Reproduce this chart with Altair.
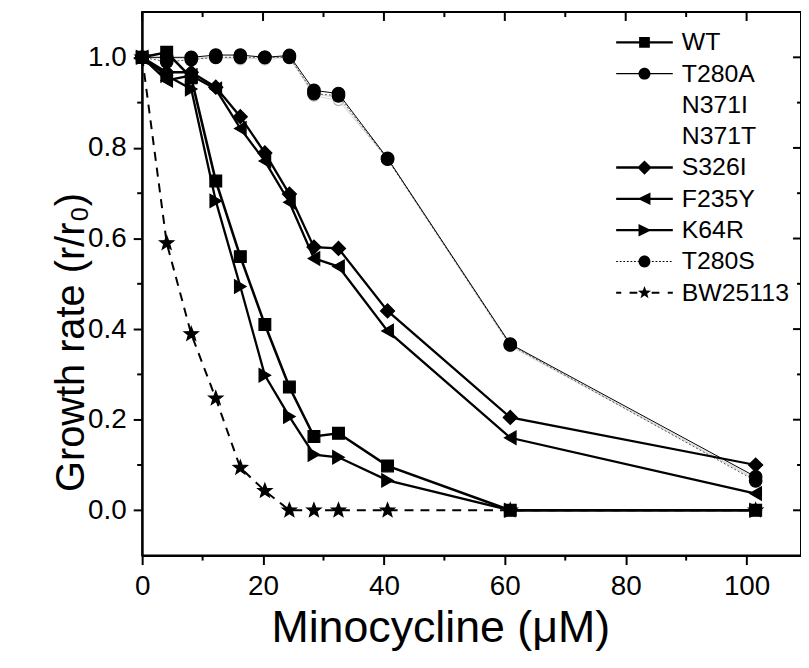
import math
import altair as alt
import pandas as pd

# ---------------- data ----------------
conc = [0, 4.06, 8.12, 12.18, 16.24, 20.3, 24.36, 28.42, 32.48, 40.6, 60.9, 101.5]

wt      = [1.000, 1.011, 0.955, 0.727, 0.560, 0.410, 0.272, 0.163, 0.170, 0.098, 0.000, 0.000]
t280a   = [1.000, 1.000, 1.000, 1.005, 1.005, 1.000, 1.004, 0.927, 0.920, 0.777, 0.367, 0.074]
n371i   = [1.000, 0.995, 1.000, 1.000, 1.000, 0.995, 1.000, 0.920, 0.910, 0.777, 0.365, 0.070]
n371t   = [1.000, 1.000, 0.995, 1.000, 0.995, 1.000, 1.000, 0.915, 0.905, 0.775, 0.362, 0.068]
s326i   = [1.000, 0.967, 0.967, 0.934, 0.869, 0.789, 0.698, 0.581, 0.578, 0.440, 0.205, 0.100]
f235y   = [1.000, 0.949, 0.960, 0.930, 0.843, 0.771, 0.680, 0.556, 0.538, 0.396, 0.160, 0.037]
k64r    = [1.000, 0.960, 0.930, 0.683, 0.494, 0.298, 0.207, 0.123, 0.117, 0.066, 0.000, 0.000]
t280s   = [1.000, 0.990, 0.995, 1.000, 1.000, 1.000, 1.000, 0.920, 0.915, 0.775, 0.365, 0.065]
bw25113 = [1.000, 0.590, 0.389, 0.247, 0.094, 0.043, 0.000, 0.000, 0.000, 0.000, 0.000, 0.000]

series_names = ["WT", "T280A", "N371I", "N371T", "S326I", "F235Y", "K64R", "T280S", "BW25113"]
series_values = [wt, t280a, n371i, n371t, s326i, f235y, k64r, t280s, bw25113]

x_major = [0, 20, 40, 60, 80, 100]
x_minor = [10, 30, 50, 70, 90]
y_major = [0.0, 0.2, 0.4, 0.6, 0.8, 1.0]
y_minor = [0.1, 0.3, 0.5, 0.7, 0.9]

# ---------------- style ----------------
FONT = "Liberation Sans"
W, H = 663, 547


def star_path(R, r):
    pts = []
    for k in range(10):
        a = -math.pi / 2 + k * math.pi / 5
        rad = R if k % 2 == 0 else r
        pts.append((rad * math.cos(a), rad * math.sin(a)))
    return "M" + "L".join(f"{x:.3f},{y:.3f}" for x, y in pts) + "Z"


def hbar(x0, x1, h):
    return f"M{x0:.2f},{-h:.2f}H{x1:.2f}V{h:.2f}H{x0:.2f}Z"


STAR = star_path(1.15, 0.48)
CIRCLE = "M-1,0A1,1,0,1,1,1,0A1,1,0,1,1,-1,0Z"
SQUARE = "M-0.9,-0.9H0.9V0.9H-0.9Z"
DIAMOND = "M0,-1.2L1.2,0L0,1.2L-1.2,0Z"
TRI_L = "M-1.15,0L1,-1.05L1,1.05Z"
TRI_R = "M1.15,0L-1,1.05L-1,-1.05Z"
L = 4.75
thick = hbar(-L, L, 0.2)
thin = hbar(-L, L, 0.09)
dotted = "".join(hbar(x, x + 0.3, 0.08) for x in [-L + i * 0.6 for i in range(16)])
dashed = hbar(-L, -3.9, 0.17) + hbar(-2.5, -1.2, 0.17) + hbar(1.2, 2.5, 0.17) + hbar(3.9, L, 0.17)
EMPTY = "M0,0Z"

legend_paths = [
    thick + SQUARE,
    thin + CIRCLE,
    EMPTY,
    EMPTY,
    thick + DIAMOND,
    thick + TRI_L,
    thick + TRI_R,
    dotted + CIRCLE,
    dashed + STAR,
]

styles = {
    "WT":      dict(color="black", width=2.6, dash=None, shape="square", size=140, fill="black", stroke="black"),
    "T280A":   dict(color="black", width=1.0, dash=None, shape="circle", size=160, fill="black", stroke="black"),
    "N371I":   dict(color="#cfcfcf", width=0.8, dash=None, shape="circle", size=110, fill="white", stroke="#b5b5b5"),
    "N371T":   dict(color="#cfcfcf", width=0.8, dash=None, shape="circle", size=110, fill="white", stroke="#b5b5b5"),
    "S326I":   dict(color="black", width=2.3, dash=None, shape="diamond", size=200, fill="black", stroke="black"),
    "F235Y":   dict(color="black", width=2.3, dash=None, shape="triangle-left", size=180, fill="black", stroke="black"),
    "K64R":    dict(color="black", width=2.3, dash=None, shape="triangle-right", size=180, fill="black", stroke="black"),
    "T280S":   dict(color="#555555", width=1.0, dash=[2, 2], shape="circle", size=160, fill="black", stroke="black"),
    "BW25113": dict(color="black", width=2.0, dash=[9, 7], shape=STAR, size=170, fill="black", stroke="black"),
}
draw_order = ["N371I", "N371T", "T280S", "T280A", "BW25113", "S326I", "F235Y", "K64R", "WT"]

# ---------------- scales / axes ----------------
xs = alt.Scale(domain=[0, 109], nice=False, zero=False)
ys = alt.Scale(domain=[-0.1, 1.1], nice=False, zero=False)

x_axis = alt.Axis(
    values=x_major, title="Minocycline (μM)", grid=False,
    tickSize=9, tickWidth=2, tickColor="black", domainColor="black", domainWidth=2,
    labelFont=FONT, labelFontSize=28, labelColor="black", labelPadding=8,
    labelFlush=False, labelOverlap=False,
    titleFont=FONT, titleFontSize=45, titleFontWeight="normal", titleColor="black",
    titleX=300, titleY=86, titleBaseline="alphabetic",
)
y_axis = alt.Axis(
    values=y_major, format=".1f", title="Growth rate (r/r₀)", grid=False,
    tickSize=9, tickWidth=2, tickColor="black", domainColor="black", domainWidth=2,
    labelFont=FONT, labelFontSize=28, labelColor="black", labelPadding=7,
    labelFlush=False, labelOverlap=False,
    titleFont=FONT, titleFontSize=40, titleFontWeight="normal", titleColor="black",
    titleX=-59, titleY=332, titleBaseline="alphabetic",
)

X = alt.X("conc:Q", scale=xs, axis=x_axis)
Y = alt.Y("val:Q", scale=ys, axis=y_axis)

layers = []
vals_by_name = dict(zip(series_names, series_values))
for name in draw_order:
    st = styles[name]
    df = pd.DataFrame({"conc": conc, "val": vals_by_name[name]})
    line_kw = dict(color=st["color"], strokeWidth=st["width"])
    if st["dash"]:
        line_kw["strokeDash"] = st["dash"]
    layers.append(alt.Chart(df).mark_line(**line_kw).encode(x=X, y=Y))
    layers.append(
        alt.Chart(df).mark_point(
            shape=st["shape"], size=st["size"], filled=True, fill=st["fill"],
            stroke=st["stroke"], strokeWidth=1.2, opacity=1,
        ).encode(x=X, y=Y)
    )

# mirror / minor ticks
tx_major = pd.DataFrame({"conc": x_major})
tx_minor = pd.DataFrame({"conc": x_minor})
ty_major = pd.DataFrame({"val": y_major})
ty_minor = pd.DataFrame({"val": y_minor})
rk = dict(color="black", strokeWidth=2)
layers += [
    alt.Chart(tx_major).mark_rule(**rk).encode(x=X, y=alt.value(0), y2=alt.value(9)),
    alt.Chart(tx_minor).mark_rule(**rk).encode(x=X, y=alt.value(0), y2=alt.value(5)),
    alt.Chart(tx_minor).mark_rule(**rk).encode(x=X, y=alt.value(H), y2=alt.value(H + 5)),
    alt.Chart(ty_major).mark_rule(**rk).encode(y=Y, x=alt.value(W), x2=alt.value(W - 8)),
    alt.Chart(ty_minor).mark_rule(**rk).encode(y=Y, x=alt.value(W), x2=alt.value(W - 4)),
    alt.Chart(ty_minor).mark_rule(**rk).encode(y=Y, x=alt.value(0), x2=alt.value(-5)),
]

# legend layer (no marks drawn, only the legend)
legend = alt.Legend(
    title=None, orient="none", legendX=493, legendY=18, padding=0, offset=0,
    symbolSize=144, symbolStrokeWidth=0, symbolFillColor="black", symbolOpacity=1,
    labelFont=FONT, labelFontSize=25, labelColor="black", labelOffset=25,
    rowPadding=5.5, labelLimit=300,
)
legend_df = pd.DataFrame({"series": series_names})
layers.append(
    alt.Chart(legend_df).mark_point(filled=True, color="black", size=144, opacity=1)
    .encode(
        shape=alt.Shape("series:N", scale=alt.Scale(domain=series_names, range=legend_paths), legend=legend),
        x=alt.value(0), y=alt.value(0),
    )
    .transform_filter("false")
)

chart = (
    alt.layer(*layers)
    .properties(
        width=W, height=H,
        autosize=alt.AutoSizeParams(type="none"),
        padding={"left": 135, "top": 2, "right": 0, "bottom": 100},
    )
    .configure_view(stroke="black", strokeWidth=2)
)

chart.save("out.html", embed_options={"renderer": "svg", "actions": False})
